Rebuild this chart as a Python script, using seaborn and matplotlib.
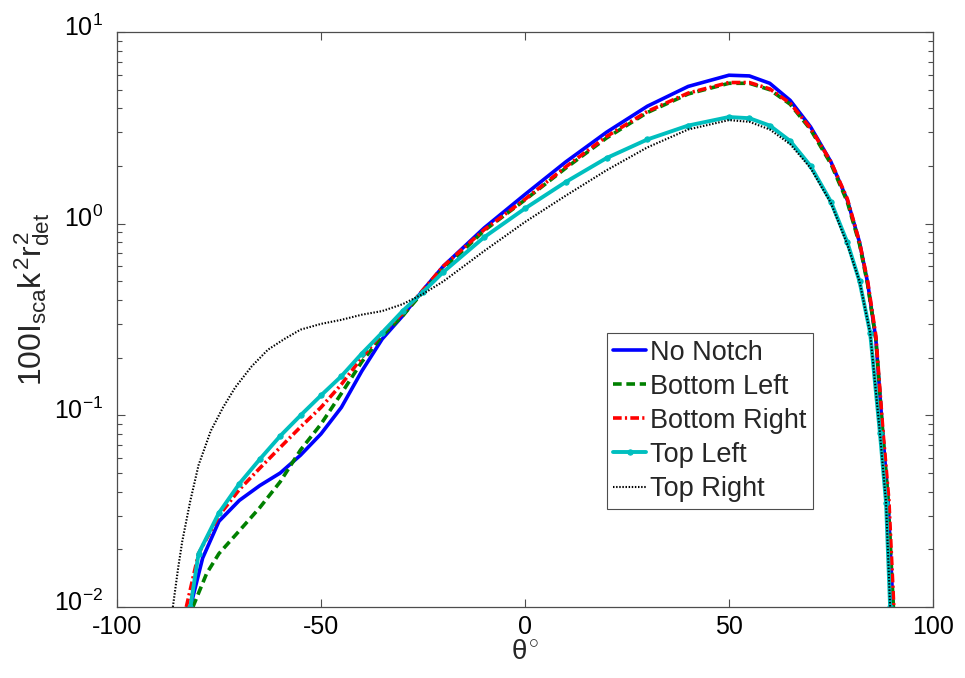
import numpy as np
import pandas as pd
import matplotlib
matplotlib.use("Agg")
import matplotlib.pyplot as plt
import matplotlib.transforms as mtransforms
import seaborn as sns

# ---- data ----
theta_no = [-82, -79, -75, -70, -65, -60, -55, -50, -45, -40, -35, -30, -25, -20, -10, 0, 10, 20, 30, 40, 50, 55, 60, 65, 70, 75, 79, 82, 84, 86, 87.7, 89, 90.2]
val_no = [0.01, 0.018, 0.028, 0.036, 0.043, 0.05, 0.062, 0.08, 0.11, 0.17, 0.25, 0.33, 0.45, 0.6, 0.95, 1.42, 2.1, 3.0, 4.1, 5.2, 5.95, 5.9, 5.4, 4.4, 3.2, 2.1, 1.33, 0.8, 0.49, 0.25, 0.08, 0.036, 0.01]

theta_bl = [-81.4, -78, -75, -70, -65, -60, -55, -50, -45, -40, -35, -30, -25, -20, -10, 0, 10, 20, 30, 40, 50, 55, 60, 65, 70, 75, 79, 82, 84, 86, 87.7, 89, 90.3]
val_bl = [0.01, 0.015, 0.019, 0.025, 0.033, 0.045, 0.066, 0.09, 0.13, 0.19, 0.26, 0.33, 0.44, 0.58, 0.92, 1.33, 1.95, 2.8, 3.8, 4.75, 5.4, 5.4, 5.0, 4.2, 3.1, 2.05, 1.3, 0.78, 0.48, 0.25, 0.08, 0.036, 0.01]

theta_br = [-83, -80, -75, -70, -65, -60, -55, -50, -45, -40, -35, -30, -25, -20, -10, 0, 10, 20, 30, 40, 50, 55, 60, 65, 70, 75, 79, 82, 84, 86, 87.8, 89.2, 90.4]
val_br = [0.01, 0.019, 0.03, 0.041, 0.053, 0.068, 0.087, 0.11, 0.145, 0.2, 0.27, 0.34, 0.45, 0.6, 0.93, 1.34, 1.98, 2.85, 3.85, 4.8, 5.45, 5.45, 5.05, 4.25, 3.15, 2.1, 1.35, 0.8, 0.5, 0.26, 0.08, 0.036, 0.01]

theta_tl = [-82, -80, -75, -70, -65, -60, -55, -50, -45, -40, -35, -30, -25, -20, -10, 0, 10, 20, 30, 40, 50, 55, 60, 65, 70, 75, 79, 82, 84.6, 87, 88.5, 89.5]
val_tl = [0.01, 0.019, 0.031, 0.044, 0.059, 0.078, 0.1, 0.127, 0.16, 0.21, 0.27, 0.35, 0.44, 0.56, 0.85, 1.2, 1.65, 2.2, 2.75, 3.25, 3.6, 3.55, 3.25, 2.7, 2.0, 1.3, 0.8, 0.5, 0.27, 0.081, 0.035, 0.01]

theta_tr = [-86.3, -85, -84, -82, -80, -77, -74, -71, -67, -63, -59, -55, -50, -45, -40, -35, -30, -25, -20, -10, 0, 10, 20, 30, 40, 50, 55, 60, 65, 70, 75, 79, 82, 84.6, 87, 88.5, 89.5]
val_tr = [0.01, 0.016, 0.022, 0.036, 0.055, 0.083, 0.11, 0.14, 0.18, 0.22, 0.25, 0.28, 0.3, 0.315, 0.335, 0.35, 0.38, 0.43, 0.5, 0.72, 1.02, 1.4, 1.9, 2.5, 3.1, 3.47, 3.4, 3.1, 2.6, 1.95, 1.28, 0.78, 0.5, 0.27, 0.081, 0.035, 0.01]

labels = ["No Notch", "Bottom Left", "Bottom Right", "Top Left", "Top Right"]
x_ticks = [-100, -50, 0, 50, 100]

# ---- style ----
sns.set_theme(style="ticks")
plt.rcParams["font.family"] = ["Liberation Sans", "DejaVu Sans"]
plt.rcParams["mathtext.fontset"] = "custom"
plt.rcParams["mathtext.rm"] = "Liberation Sans"
plt.rcParams["mathtext.it"] = "Liberation Sans"
plt.rcParams["mathtext.bf"] = "Liberation Sans:bold"

fig = plt.figure(figsize=(9.65, 6.78), dpi=100)
ax = fig.add_axes([0.1212, 0.1047, 0.8456, 0.8481])
ax.set_yscale("log")

cyan = (0, 0.75, 0.75)
series = [
    (theta_no, val_no, dict(color=(0, 0, 1), lw=2.6, linestyle="-")),
    (theta_bl, val_bl, dict(color=(0, 0.5, 0), lw=2.6, dashes=(2.4, 1.3))),
    (theta_br, val_br, dict(color=(1, 0, 0), lw=2.6, dashes=(2.4, 0.9, 0.6, 0.9))),
    (theta_tl, val_tl, dict(color=cyan, lw=2.8, linestyle="-", marker="o", markersize=3.8,
                            markeredgecolor=cyan, markerfacecolor=cyan)),
    (theta_tr, val_tr, dict(color="black", lw=1.5, dashes=(0.7, 0.8))),
]
for (th, v, kw), lab in zip(series, labels):
    df = pd.DataFrame({"theta": th, "val": v})
    sns.lineplot(data=df, x="theta", y="val", ax=ax, label=lab, sort=False, **kw)

ax.set_xlim(-100, 100)
ax.set_ylim(0.01, 10)
ax.set_xticks(x_ticks)
ax.set_xticklabels([str(t) for t in x_ticks])

for s in ax.spines.values():
    s.set_color("0.3")
    s.set_linewidth(0.9)
ax.tick_params(which="both", direction="in", top=True, right=True, colors="0.3", labelcolor="black", labelsize=18)
ax.tick_params(which="major", length=6, width=0.8)
ax.tick_params(which="minor", length=3.5, width=0.8)
ax.tick_params(axis="x", pad=6)
ax.tick_params(axis="y", pad=10)

# shift y tick labels slightly upward (MATLAB-like placement)
offset = mtransforms.ScaledTranslation(0, 5 / 72, fig.dpi_scale_trans)
for lbl in ax.get_yticklabels():
    lbl.set_transform(lbl.get_transform() + offset)

ax.set_xlabel(r"$\theta^{\circ}$", fontsize=20, labelpad=0)
ax.set_ylabel(r"$100I_{sca}k^2r^2_{det}$", fontsize=23)
ax.yaxis.set_label_coords(-0.08, 0.535)

leg = ax.legend(loc="upper left", bbox_to_anchor=(0.600, 0.477), fontsize=19.5,
                frameon=True, fancybox=False, shadow=False, framealpha=1,
                edgecolor="0.3", handlelength=1.2, handletextpad=0.15,
                labelspacing=0.3, borderpad=0.25, borderaxespad=0)
leg.get_frame().set_linewidth(0.8)

fig.savefig("out.png", dpi=100)
